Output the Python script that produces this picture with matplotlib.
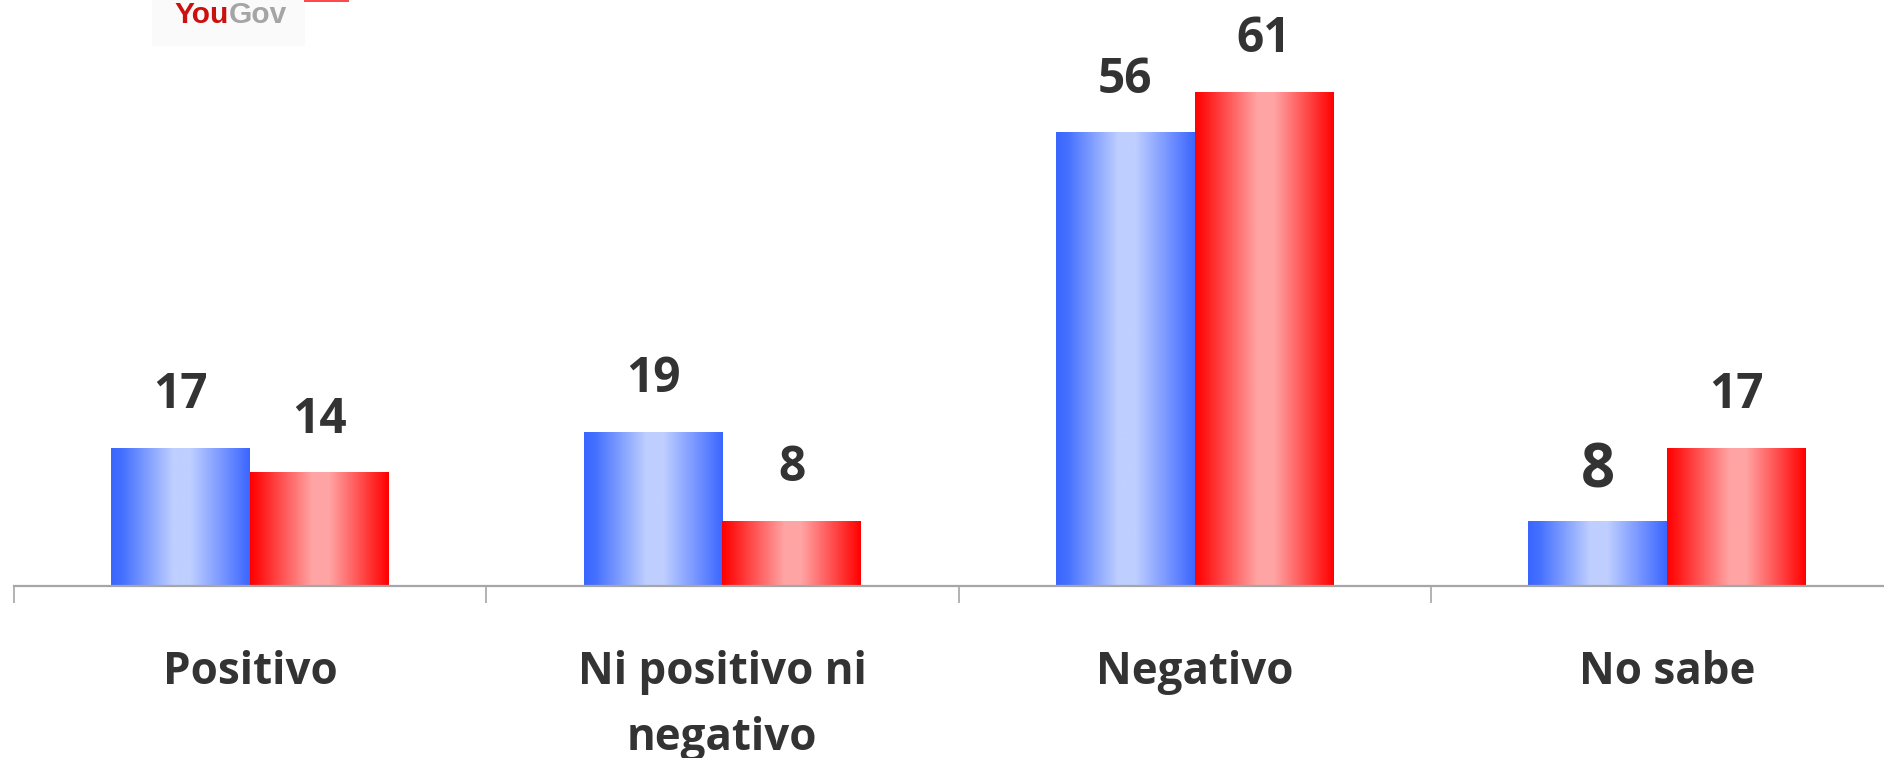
import numpy as np
import matplotlib
matplotlib.use("Agg")
import matplotlib.pyplot as plt
from matplotlib.colors import LinearSegmentedColormap
from matplotlib.patches import Rectangle
import matplotlib.transforms as mtransforms

# ---- data ----
categories = ["Positivo", "Ni positivo ni\nnegativo", "Negativo", "No sabe"]
blue_values = [17, 19, 56, 8]
red_values = [14, 8, 61, 17]

W, H = 1884, 758
fig = plt.figure(figsize=(W / 100, H / 100), dpi=100)
fig.patch.set_facecolor("white")

def px(x0, y0, x1, y1):
    # pixel box (top-left origin) -> figure fraction [left, bottom, width, height]
    return [x0 / W, 1 - y1 / H, (x1 - x0) / W, (y1 - y0) / H]

ax = fig.add_axes(px(14, 0, 1903, 586))
ax.set_facecolor("none")

x = np.arange(len(categories))
bw = 0.294

blue_bars = ax.bar(x - bw / 2, blue_values, bw, facecolor="none", edgecolor="none")
red_bars = ax.bar(x + bw / 2, red_values, bw, facecolor="none", edgecolor="none")

stops = [0.0, 0.08, 0.45, 0.57, 1.0]
blue_cmap = LinearSegmentedColormap.from_list(
    "bg", list(zip(stops, ["#3b66ff", "#4470ff", "#bfcfff", "#bfcfff", "#3b66ff"])))
red_cmap = LinearSegmentedColormap.from_list(
    "rg", list(zip(stops, ["#ff0000", "#ff1a1a", "#ffa4a4", "#ffa4a4", "#ff0000"])))
grad = np.linspace(0, 1, 256).reshape(1, -1)

for bars, cmap in ((blue_bars, blue_cmap), (red_bars, red_cmap)):
    for b in bars:
        ax.imshow(grad, cmap=cmap, aspect="auto", interpolation="bilinear",
                  extent=[b.get_x(), b.get_x() + b.get_width(), 0, b.get_height()],
                  zorder=2)

ax.set_xlim(-0.5, 3.5)
ax.set_ylim(0, 72.4)

# value labels
lab_color = "#333333"
for bars in (blue_bars, red_bars):
    for b in bars:
        v = b.get_height()
        big = (v == 8 and bars is blue_bars)
        ax.annotate(f"{v:g}", (b.get_x() + b.get_width() / 2, v),
                    xytext=(0, 24 if big else 28.8), textcoords="offset points",
                    ha="center", va="baseline", fontsize=43 if big else 34.5,
                    fontweight="bold", family="Open Sans", color=lab_color)

# axes styling
for s in ("left", "right", "top"):
    ax.spines[s].set_visible(False)
ax.spines["bottom"].set_color("#a6a6a6")
ax.spines["bottom"].set_linewidth(1.6)
ax.set_yticks([])
ax.set_xticks(np.arange(-0.5, 4.0, 1.0))
ax.set_xticklabels([])
ax.tick_params(axis="x", which="major", length=12.2, width=1.2, color="#a6a6a6",
               direction="out")

# category labels
trans = mtransforms.blended_transform_factory(ax.transData, fig.transFigure)
for xi, cat in zip(x, categories):
    ax.text(xi, 1 - 650 / H, cat, transform=trans, ha="center", va="top",
            fontsize=31.6, fontweight="bold", family="Open Sans", color=lab_color,
            linespacing=1.62, multialignment="center")

# logo
fig.patches.append(Rectangle((152 / W, 1 - 46 / H), 153 / W, 46 / H,
                             transform=fig.transFigure, facecolor="#fafafa",
                             edgecolor="none", zorder=0))
fig.patches.append(Rectangle((304 / W, 1 - 2 / H), 45 / W, 2 / H,
                             transform=fig.transFigure, facecolor="#ff4a4a",
                             edgecolor="none", zorder=0))
fig.text(229 / W, 1 - 23 / H, "You", ha="right", va="baseline", fontsize=21.5,
         fontweight="bold", family="Liberation Sans", color="#cc1010")
fig.text(229 / W, 1 - 23 / H, "Gov", ha="left", va="baseline", fontsize=21.5,
         fontweight="bold", family="Liberation Sans", color="#a5a5a5")

fig.savefig("out.png", dpi=100)
